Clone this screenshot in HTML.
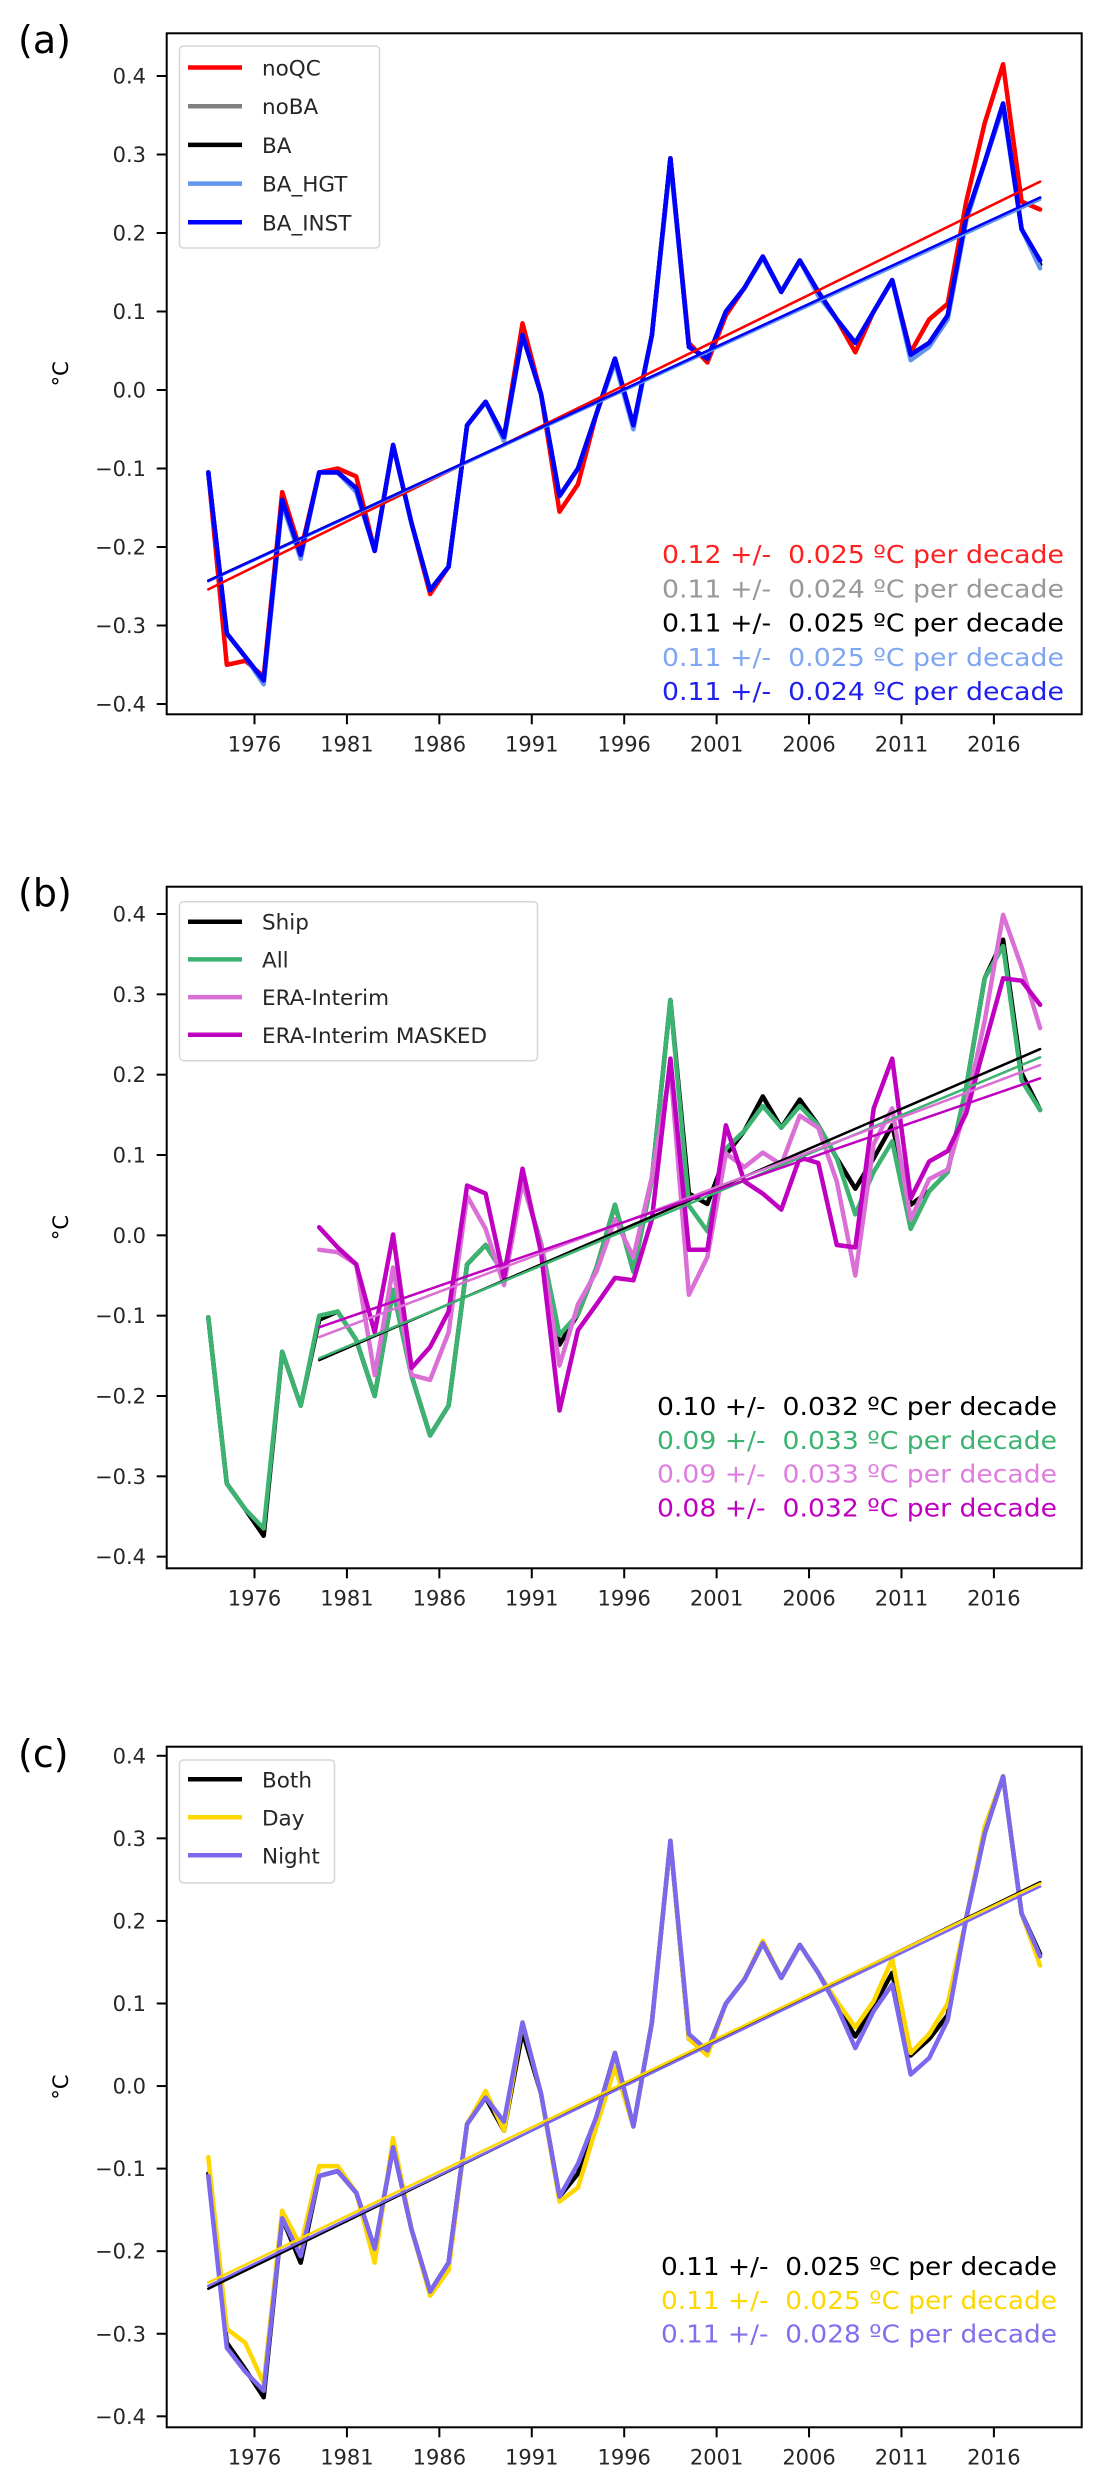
<!DOCTYPE html>
<html><head><meta charset="utf-8">
<style>
html,body{margin:0;padding:0;background:#fff;}
svg{display:block;}
text{font-family:"DejaVu Sans","Liberation Sans",sans-serif;white-space:pre;}
</style></head>
<body>
<svg id="fig" width="1104" height="2484" viewBox="0 0 1104 2484" xmlns="http://www.w3.org/2000/svg"></svg>
<script>
// ---------- data ----------
const years = [];
for (let y = 1973; y <= 2018; y++) years.push(y);
const xTicks = [1976,1981,1986,1991,1996,2001,2006,2011,2016];
const yTicks = [0.4,0.3,0.2,0.1,0.0,-0.1,-0.2,-0.3,-0.4];
const yTickLabels = ["0.4","0.3","0.2","0.1","0.0","\u22120.1","\u22120.2","\u22120.3","\u22120.4"];

// panel (a)
const aNoQC = [-0.105,-0.35,-0.345,-0.365,-0.13,-0.205,-0.105,-0.1,-0.11,-0.205,-0.07,-0.17,-0.26,-0.225,-0.045,-0.015,-0.06,0.085,-0.005,-0.155,-0.12,-0.03,0.04,-0.045,0.07,0.295,0.06,0.035,0.095,0.13,0.17,0.125,0.165,0.125,0.09,0.048,0.1,0.14,0.048,0.09,0.11,0.24,0.34,0.415,0.24,0.23];
const aNoBA = [-0.105,-0.31,-0.34,-0.37,-0.14,-0.21,-0.105,-0.105,-0.125,-0.205,-0.07,-0.17,-0.255,-0.225,-0.045,-0.015,-0.06,0.07,-0.005,-0.135,-0.1,-0.03,0.04,-0.045,0.07,0.295,0.055,0.04,0.1,0.13,0.17,0.125,0.165,0.125,0.09,0.06,0.1,0.14,0.045,0.06,0.095,0.22,0.29,0.365,0.205,0.16];
const aBA = aNoBA.slice();
const aHGT = [-0.105,-0.31,-0.34,-0.375,-0.145,-0.215,-0.105,-0.105,-0.13,-0.205,-0.07,-0.17,-0.255,-0.225,-0.045,-0.015,-0.065,0.07,-0.005,-0.135,-0.1,-0.03,0.035,-0.05,0.07,0.29,0.055,0.04,0.1,0.13,0.168,0.125,0.165,0.12,0.09,0.06,0.1,0.14,0.038,0.055,0.09,0.215,0.29,0.36,0.205,0.155];
const aINST = [-0.105,-0.31,-0.34,-0.37,-0.14,-0.21,-0.105,-0.105,-0.125,-0.205,-0.07,-0.17,-0.255,-0.225,-0.045,-0.015,-0.06,0.07,-0.005,-0.135,-0.1,-0.03,0.04,-0.045,0.07,0.295,0.055,0.04,0.1,0.13,0.17,0.125,0.165,0.125,0.09,0.06,0.1,0.14,0.045,0.06,0.095,0.22,0.29,0.365,0.205,0.165];
const aTrendText = ["0.12 +/-  0.025 \u00BAC per decade","0.11 +/-  0.024 \u00BAC per decade","0.11 +/-  0.025 \u00BAC per decade","0.11 +/-  0.025 \u00BAC per decade","0.11 +/-  0.024 \u00BAC per decade"];

// panel (b)
const bShip = [-0.102,-0.309,-0.341,-0.374,-0.145,-0.212,-0.105,-0.095,-0.13,-0.2,-0.068,-0.175,-0.249,-0.212,-0.036,-0.012,-0.048,0.067,-0.01,-0.136,-0.098,-0.04,0.038,-0.045,0.07,0.293,0.052,0.039,0.1,0.13,0.173,0.134,0.169,0.137,0.096,0.058,0.096,0.137,0.038,0.055,0.079,0.184,0.32,0.368,0.202,0.156];
const bAll = [-0.102,-0.309,-0.341,-0.365,-0.145,-0.212,-0.1,-0.095,-0.13,-0.2,-0.068,-0.175,-0.249,-0.212,-0.036,-0.012,-0.048,0.067,-0.01,-0.124,-0.098,-0.04,0.038,-0.045,0.07,0.293,0.037,0.005,0.108,0.13,0.161,0.134,0.161,0.137,0.096,0.026,0.079,0.117,0.008,0.055,0.079,0.184,0.32,0.36,0.193,0.156];
const bEra = [null,null,null,null,null,null,-0.018,-0.021,-0.036,-0.174,-0.04,-0.174,-0.18,-0.121,0.049,0.008,-0.062,0.067,-0.012,-0.162,-0.086,-0.045,0.02,-0.027,0.073,0.208,-0.074,-0.027,0.102,0.085,0.103,0.088,0.149,0.134,0.067,-0.05,0.114,0.158,0.02,0.07,0.082,0.161,0.267,0.399,0.334,0.258];
const bMasked = [null,null,null,null,null,null,0.01,-0.015,-0.036,-0.121,0.001,-0.165,-0.139,-0.095,0.062,0.052,-0.053,0.083,-0.021,-0.218,-0.118,-0.086,-0.053,-0.056,0.02,0.22,-0.018,-0.018,0.137,0.067,0.052,0.032,0.097,0.09,-0.012,-0.015,0.158,0.22,0.046,0.092,0.105,0.152,0.237,0.32,0.317,0.287];
const bTrendText = ["0.10 +/-  0.032 \u00BAC per decade","0.09 +/-  0.033 \u00BAC per decade","0.09 +/-  0.033 \u00BAC per decade","0.08 +/-  0.032 \u00BAC per decade"];

// panel (c)
const cBoth = [-0.106,-0.311,-0.343,-0.377,-0.16,-0.214,-0.109,-0.103,-0.129,-0.197,-0.074,-0.174,-0.249,-0.214,-0.046,-0.014,-0.054,0.066,-0.009,-0.134,-0.106,-0.037,0.04,-0.049,0.077,0.297,0.057,0.043,0.1,0.129,0.173,0.131,0.171,0.137,0.097,0.06,0.097,0.137,0.037,0.057,0.086,0.203,0.306,0.375,0.209,0.16];
const cDay = [-0.086,-0.294,-0.311,-0.36,-0.151,-0.194,-0.097,-0.097,-0.129,-0.214,-0.063,-0.174,-0.254,-0.223,-0.046,-0.006,-0.054,0.077,-0.009,-0.14,-0.123,-0.049,0.023,-0.049,0.077,0.297,0.057,0.037,0.1,0.129,0.176,0.131,0.171,0.137,0.103,0.071,0.103,0.154,0.04,0.063,0.1,0.203,0.314,0.375,0.209,0.146];
const cNight = [-0.109,-0.317,-0.346,-0.369,-0.16,-0.206,-0.109,-0.103,-0.129,-0.197,-0.074,-0.174,-0.249,-0.214,-0.046,-0.014,-0.043,0.077,-0.009,-0.134,-0.094,-0.037,0.04,-0.049,0.077,0.297,0.063,0.043,0.1,0.129,0.173,0.131,0.171,0.137,0.097,0.046,0.091,0.123,0.014,0.034,0.08,0.203,0.306,0.375,0.209,0.157];
const cTrendText = ["0.11 +/-  0.025 \u00BAC per decade","0.11 +/-  0.025 \u00BAC per decade","0.11 +/-  0.028 \u00BAC per decade"];

// ---------- drawing ----------
const NS = "http://www.w3.org/2000/svg";
const svg = document.getElementById("fig");
const XMIN = 1971.25, XMAX = 2020.75, LEFT = 166.7, RIGHT = 1081.7;

function mk(tag, attrs, parent) {
  const e = document.createElementNS(NS, tag);
  for (const k in attrs) e.setAttribute(k, attrs[k]);
  parent.appendChild(e);
  return e;
}
function regress(xs, ys) {
  let n=0,sx=0,sy=0,sxx=0,sxy=0;
  for (let i=0;i<xs.length;i++){ if (ys[i]==null) continue; n++; sx+=xs[i]; sy+=ys[i]; sxx+=xs[i]*xs[i]; sxy+=xs[i]*ys[i]; }
  const m=(n*sxy-sx*sy)/(n*sxx-sx*sx); const b=(sy-m*sx)/n; return [m,b];
}

function panel(cfg) {
  const g = mk("g", {}, svg);
  
  
  const X = v => LEFT + (v - XMIN) / (XMAX - XMIN) * (RIGHT - LEFT);
  const Y = v => cfg.b - (v - cfg.ymin) / (cfg.ymax - cfg.ymin) * (cfg.b - cfg.t);

  const pl = mk("text", {x: 18, y: cfg.labelY, "font-size": 38, fill: "#000", "font-family": "Liberation Sans, sans-serif"}, g);
  pl.textContent = cfg.label;
  
  

  const sg = mk("g", {fill: "none", "stroke-linejoin": "round", "stroke-linecap": "round"}, g);
  cfg.series.forEach(s => {
    let d = ""; let started = false;
    s.data.forEach((v, i) => {
      if (v == null) { started = false; return; }
      d += (started ? "L" : "M") + X(years[i] + 0.5).toFixed(1) + " " + Y(v).toFixed(1) + " ";
      started = true;
    });
    const p = mk("path", {d: d, stroke: s.color, "stroke-width": 4.5}, sg);
    
    
  });
  cfg.series.forEach(s => {
    if (!s.trend) return;
    const xs = [], ys = [];
    s.data.forEach((v, i) => { if (years[i] >= cfg.trendStart && v != null) { xs.push(years[i] + 0.5); ys.push(v); } });
    const [m, b0] = regress(xs, ys);
    const x0 = cfg.trendStart + 0.5, x1 = 2018.5;
    const l = mk("line", {x1: X(x0), y1: Y(m*x0+b0), x2: X(x1), y2: Y(m*x1+b0), stroke: s.color, "stroke-width": 2.5}, sg);
    
    
  });

  const fr = mk("rect", {x: LEFT, y: cfg.t, width: RIGHT - LEFT, height: cfg.b - cfg.t, fill: "none", stroke: "#000", "stroke-width": 2}, g);
  
  

  yTicks.forEach((v, i) => {
    const y = Y(v);
    const t = mk("line", {x1: LEFT - 10, x2: LEFT, y1: y, y2: y, stroke: "#000", "stroke-width": 2}, g);
    
    
    const tl = mk("text", {x: 146, y: y + 7.5, "font-size": 21, fill: "#262626", "text-anchor": "end"}, g);
    tl.textContent = yTickLabels[i];
    
    
  });
  xTicks.forEach(v => {
    const x = X(v);
    const t = mk("line", {x1: x, x2: x, y1: cfg.b, y2: cfg.b + 10, stroke: "#000", "stroke-width": 2}, g);
    
    
    const tl = mk("text", {x: x, y: cfg.b + 37, "font-size": 21, fill: "#262626", "text-anchor": "middle"}, g);
    tl.textContent = String(v);
    
    
  });
  const cy = (cfg.t + cfg.b) / 2;
  const yl = mk("text", {x: 0, y: 0, "font-size": 21, fill: "#000", "text-anchor": "middle", transform: "translate(68," + cy + ") rotate(-90)"}, g);
  yl.textContent = "\u00B0C";
  
  

  const lg = mk("g", {}, g);
  
  
  const lb = mk("rect", {x: 179.5, y: cfg.legTop, width: cfg.legW, height: cfg.legH, rx: 4, fill: "#fff", "fill-opacity": 0.85, stroke: "#d6d6d6", "stroke-width": 1.5}, lg);
  
  
  cfg.legend.forEach((s, k) => {
    const y = cfg.legFirst + k * cfg.legStep;
    const ll = mk("line", {x1: 188, x2: 242, y1: y, y2: y, stroke: s.color, "stroke-width": 4.5}, lg);
    
    
    const lt = mk("text", {x: 262, y: y + 8, "font-size": 21.5, fill: "#262626"}, lg);
    lt.textContent = s.name;
    
    
  });

  cfg.notes.forEach((n, k) => {
    const y = cfg.noteFirst + k * cfg.noteStep;
    const tx = mk("text", {x: cfg.noteX, y: y + 9, "font-size": 25, fill: n.color, textLength: cfg.noteW, lengthAdjust: "spacingAndGlyphs", "font-family": "Liberation Sans, sans-serif"}, g);
    tx.textContent = n.text;
    
    
  });
}

panel({
  name: "panel-a", label: "(a)", labelY: 53, t: 33.3, b: 714.3, ymin: -0.4131, ymax: 0.4544, trendStart: 1973,
  series: [
    {key: "noqc", data: aNoQC, color: "#ff0000", trend: true},
    {key: "noba", data: aNoBA, color: "#808080", trend: true},
    {key: "ba", data: aBA, color: "#000000", trend: true},
    {key: "ba-hgt", data: aHGT, color: "#6495ed", trend: true},
    {key: "ba-inst", data: aINST, color: "#0000ff", trend: true}
  ],
  legend: [{name:"noQC",color:"#ff0000"},{name:"noBA",color:"#808080"},{name:"BA",color:"#000"},{name:"BA_HGT",color:"#6495ed"},{name:"BA_INST",color:"#0000ff"}],
  legTop: 46, legW: 200, legH: 202, legFirst: 67.5, legStep: 38.7,
  notes: [
    {text: aTrendText[0], color: "#ff2020"},{text: aTrendText[1], color: "#999999"},{text: aTrendText[2], color: "#000000"},
    {text: aTrendText[3], color: "#7fa6f0"},{text: aTrendText[4], color: "#2020ee"}],
  noteX: 662, noteW: 402, noteFirst: 554, noteStep: 34.3
});

panel({
  name: "panel-b", label: "(b)", labelY: 906, t: 886.7, b: 1568.3, ymin: -0.4145, ymax: 0.434, trendStart: 1979,
  series: [
    {key: "ship", data: bShip, color: "#000000", trend: true},
    {key: "all", data: bAll, color: "#3cb371", trend: true},
    {key: "era-interim", data: bEra, color: "#da70d6", trend: true},
    {key: "era-interim-masked", data: bMasked, color: "#c000c0", trend: true}
  ],
  legend: [{name:"Ship",color:"#000"},{name:"All",color:"#3cb371"},{name:"ERA-Interim",color:"#da70d6"},{name:"ERA-Interim MASKED",color:"#c000c0"}],
  legTop: 901.7, legW: 358, legH: 159, legFirst: 921.7, legStep: 37.7,
  notes: [
    {text: bTrendText[0], color: "#000000"},{text: bTrendText[1], color: "#3cb371"},
    {text: bTrendText[2], color: "#e07ee0"},{text: bTrendText[3], color: "#c000c0"}],
  noteX: 657, noteW: 400, noteFirst: 1406, noteStep: 33.8
});

panel({
  name: "panel-c", label: "(c)", labelY: 1767, t: 1746.7, b: 2427.3, ymin: -0.4133, ymax: 0.411, trendStart: 1973,
  series: [
    {key: "both", data: cBoth, color: "#000000", trend: true},
    {key: "day", data: cDay, color: "#ffd700", trend: true},
    {key: "night", data: cNight, color: "#7b68ee", trend: true}
  ],
  legend: [{name:"Both",color:"#000"},{name:"Day",color:"#ffd700"},{name:"Night",color:"#7b68ee"}],
  legTop: 1760, legW: 155, legH: 123, legFirst: 1779.3, legStep: 38,
  notes: [
    {text: cTrendText[0], color: "#000000"},{text: cTrendText[1], color: "#ffd700"},{text: cTrendText[2], color: "#8070ee"}],
  noteX: 661, noteW: 396, noteFirst: 2266, noteStep: 33.8
});
</script>
</body></html>
